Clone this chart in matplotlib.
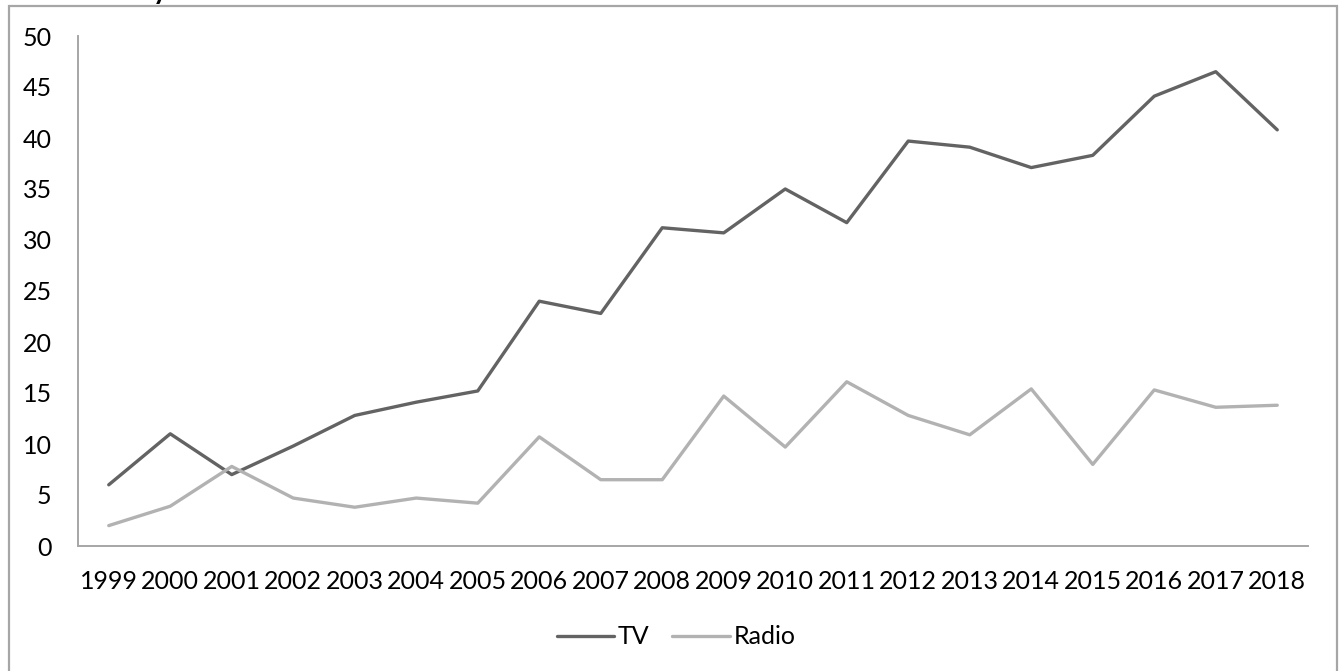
import matplotlib
matplotlib.use("Agg")
import matplotlib.pyplot as plt
from matplotlib.patches import Rectangle

years = ["1999", "2000", "2001", "2002", "2003", "2004", "2005", "2006", "2007", "2008",
         "2009", "2010", "2011", "2012", "2013", "2014", "2015", "2016", "2017", "2018"]
tv = [6.0, 11.0, 7.0, 9.8, 12.8, 14.1, 15.2, 24.0, 22.8, 31.2,
      30.7, 35.0, 31.7, 39.7, 39.1, 37.1, 38.3, 44.1, 46.5, 40.8]
radio = [2.0, 3.9, 7.8, 4.7, 3.8, 4.7, 4.2, 10.7, 6.5, 6.5,
         14.7, 9.7, 16.1, 12.8, 10.9, 15.4, 8.0, 15.3, 13.6, 13.8]
y_ticks = list(range(0, 51, 5))

plt.rcParams['font.family'] = ['Lato', 'DejaVu Sans']

W, H = 1340, 671
fig = plt.figure(figsize=(W / 100, H / 100), dpi=100)
fig.patch.set_facecolor("white")

# outer chart border (bottom edge runs past the canvas)
fig.patches.append(Rectangle((9 / W, -0.05), (1337 - 9) / W, 1.05 - 6 / H,
                             transform=fig.transFigure, fill=False,
                             edgecolor="#a6a6a6", linewidth=1.6, zorder=0))
# descender of the heading sitting above the border
fig.text(160 / W, 1 + 1 / H, "y", fontsize=20, fontweight="bold",
         ha="center", va="baseline", color="black")

ax = fig.add_axes([78 / W, (H - 546) / H, (1308 - 78) / W, (546 - 36) / H])
x = list(range(len(years)))
ax.plot(x, tv, color="#636363", linewidth=2.4, label="TV", solid_capstyle="round")
ax.plot(x, radio, color="#b2b2b2", linewidth=2.4, label="Radio", solid_capstyle="round")

ax.set_xlim(-0.5, len(years) - 0.5)
ax.set_ylim(0, 50)
ax.set_xticks(x)
ax.set_xticklabels(years)
ax.set_yticks(y_ticks)
ax.tick_params(axis="both", length=0, labelsize=18, colors="black")
ax.tick_params(axis="y", pad=19)
ax.tick_params(axis="x", pad=17)
for side in ("top", "right"):
    ax.spines[side].set_visible(False)
for side in ("left", "bottom"):
    ax.spines[side].set_color("#a6a6a6")
    ax.spines[side].set_linewidth(1.4)

fig.legend(loc="center", bbox_to_anchor=(676 / W, 1 - 637 / H), ncol=2,
           frameon=False, fontsize=18, handlelength=2.3, handletextpad=0.15,
           columnspacing=0.9)

fig.savefig("out.png", dpi=100, facecolor="white")
